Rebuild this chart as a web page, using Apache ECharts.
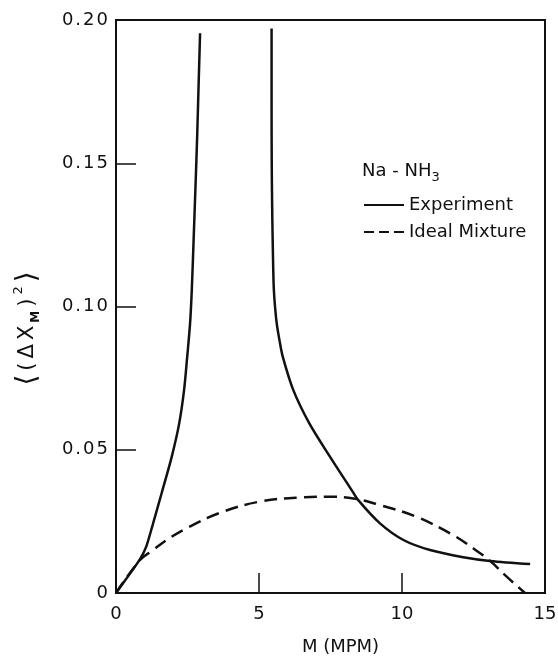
<!DOCTYPE html>
<html>
<head>
<meta charset="utf-8">
<script src="https://cdn.jsdelivr.net/npm/echarts@6/dist/echarts.min.js"></script>
<style>
  html, body { margin: 0; padding: 0; background: #fff; }
  #chart { width: 558px; height: 656px; }
</style>
</head>
<body>
<div id="chart"></div>
<script>
// Metal concentration M (MPM) against the mean-square concentration fluctuation
// Experiment, dilute branch (rises toward the critical point)
const expLowM = [0, 0.42, 0.84, 1.05, 1.28, 1.60, 1.95, 2.21, 2.38, 2.49, 2.59, 2.65, 2.72, 2.78, 2.84, 2.89, 2.94];
const expLowY = [0, 0.0058, 0.0118, 0.0160, 0.0237, 0.0350, 0.0476, 0.0592, 0.0708, 0.0825, 0.0941, 0.1057, 0.1250, 0.1420, 0.1600, 0.1780, 0.1954];
// Experiment, concentrated branch
const expHighM = [5.44, 5.44, 5.445, 5.46, 5.475, 5.50, 5.52, 5.56, 5.62, 5.72, 5.83, 6.20, 6.76, 7.48, 8.24, 8.47, 9.23, 10.05, 10.98, 12.14, 13.08, 14.48];
const expHighY = [0.197, 0.170, 0.150, 0.135, 0.125, 0.112, 0.1057, 0.100, 0.0941, 0.088, 0.0825, 0.0708, 0.0592, 0.0476, 0.0359, 0.0324, 0.0243, 0.0185, 0.0150, 0.0125, 0.0112, 0.0101];
// Ideal mixture
const idealM = [0, 0.84, 1.3, 1.8, 2.47, 3.64, 5.03, 6.55, 7.4, 8.30, 9.23, 10.51, 11.79, 12.5, 13.08, 13.66, 14.3];
const idealY = [0, 0.0115, 0.0150, 0.0187, 0.0226, 0.0280, 0.0319, 0.0334, 0.0336, 0.0330, 0.0307, 0.0266, 0.0202, 0.0155, 0.0112, 0.0057, 0];

const xTicks = [0, 5, 10, 15];
const yTicks = [0, 0.05, 0.10, 0.15, 0.20];
const seriesNames = ['Experiment', 'Ideal Mixture'];
const systemLabel = 'Na - NH';

const pairs = (xs, ys) => xs.map((x, i) => [x, ys[i]]);
const FONT = 'DejaVu Sans';
const INK = '#111';

// spread characters of a label into separate rich tokens (wide lettering)
const spaced = (s, style) => s.split('').map(c => '{' + style + '|' + c + '}').join('');

const chart = echarts.init(document.getElementById('chart'), null, { renderer: 'canvas' });

chart.setOption({
  backgroundColor: '#fff',
  animation: false,
  textStyle: { fontFamily: FONT, color: INK },
  grid: {
    left: 116, top: 20, right: 13, bottom: 63,
    outerBoundsMode: 'none', containLabel: false,
    show: true, borderColor: INK, borderWidth: 2, backgroundColor: 'transparent'
  },
  title: {
    text: systemLabel + '{sub|3}',
    left: 362, top: 158, padding: 0,
    textStyle: {
      fontFamily: FONT, fontSize: 18, fontWeight: 'normal', color: INK, lineHeight: 26,
      rich: { sub: { fontFamily: FONT, fontSize: 13, color: INK, verticalAlign: 'bottom', lineHeight: 26 } }
    }
  },
  legend: {
    data: [
      { name: seriesNames[0] },
      { name: seriesNames[1], lineStyle: { type: [10, 5] } }
    ],
    orient: 'vertical',
    left: 363, top: 196, padding: 0,
    itemWidth: 40, itemHeight: 14, itemGap: 9,
    itemStyle: { opacity: 0 },
    lineStyle: { width: 2 },
    textStyle: { fontFamily: FONT, fontSize: 18, color: INK, lineHeight: 18 },
    selectedMode: false
  },
  xAxis: {
    type: 'value', min: xTicks[0], max: xTicks[xTicks.length - 1], interval: 5,
    name: 'M (MPM)', nameLocation: 'middle', nameGap: 45,
    nameTextStyle: { fontFamily: FONT, fontSize: 18, color: INK, padding: [0, 0, 0, 20] },
    axisLine: { show: true, lineStyle: { color: INK, width: 2 } },
    axisTick: { show: true, inside: true, length: 20, lineStyle: { color: INK, width: 1.5 } },
    axisLabel: { fontFamily: FONT, fontSize: 18, color: INK, margin: 12 },
    splitLine: { show: false }
  },
  yAxis: {
    type: 'value', min: yTicks[0], max: yTicks[yTicks.length - 1], interval: 0.05,
    name: '{br|⟨}' + spaced('(ΔX', 't') + '{sub|M}{t|)}{sup|2}{br|⟩}',
    nameLocation: 'middle', nameGap: 72, nameRotate: 90,
    nameTextStyle: {
      fontFamily: FONT, fontSize: 21, color: INK, lineHeight: 32, padding: [0, 44, 0, 0],
      rich: {
        br: { fontFamily: FONT, fontSize: 28, color: INK, lineHeight: 32, padding: [0, 2] },
        t: { fontFamily: FONT, fontSize: 21, color: INK, lineHeight: 32, padding: [0, 2] },
        sub: { fontFamily: FONT, fontSize: 12, fontWeight: 'bold', color: INK, verticalAlign: 'bottom', lineHeight: 32, padding: [0, 2, 2, 1] },
        sup: { fontFamily: FONT, fontSize: 13, color: INK, verticalAlign: 'top', lineHeight: 32, padding: [0, 2] }
      }
    },
    axisLine: { show: true, lineStyle: { color: INK, width: 2 } },
    axisTick: { show: true, inside: true, length: 20, lineStyle: { color: INK, width: 1.5 } },
    axisLabel: {
      color: INK, margin: 7,
      formatter: v => spaced(v === 0 ? '0' : v.toFixed(2), 'd'),
      rich: { d: { fontFamily: FONT, fontSize: 18, color: INK, padding: [0, 1] } }
    },
    splitLine: { show: false }
  },
  series: [
    {
      name: seriesNames[0], type: 'line', data: pairs(expLowM, expLowY),
      smooth: 0.3, symbol: 'none', clip: true,
      lineStyle: { color: INK, width: 2.5, type: 'solid' }, itemStyle: { color: INK }
    },
    {
      name: seriesNames[0], type: 'line', data: pairs(expHighM, expHighY),
      smooth: 0.3, symbol: 'none', clip: true,
      lineStyle: { color: INK, width: 2.5, type: 'solid' }, itemStyle: { color: INK }
    },
    {
      name: seriesNames[1], type: 'line', data: pairs(idealM, idealY),
      smooth: 0.4, symbol: 'none', clip: true,
      lineStyle: { color: INK, width: 2.5, type: [13, 7] }, itemStyle: { color: INK }
    }
  ]
});
</script>
</body>
</html>
